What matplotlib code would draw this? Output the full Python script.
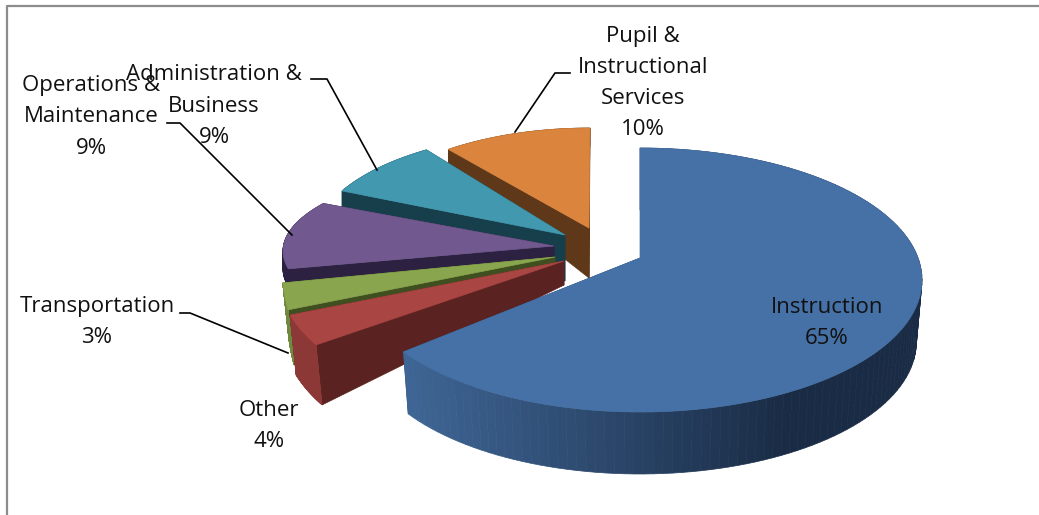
import numpy as np
import matplotlib
matplotlib.use("Agg")
import matplotlib.pyplot as plt
from matplotlib.patches import Polygon
from matplotlib.colors import to_rgb

# ---- data (clockwise from 12 o'clock) ----
categories = ["Instruction", "Other", "Transportation",
              "Operations &\nMaintenance", "Administration &\nBusiness",
              "Pupil &\nInstructional\nServices"]
values = [65.0, 4.0, 3.0, 9.4, 8.6, 10.0]

# ---- styles / layout ----
top_colors = ["#4571A6", "#A94542", "#89A54E", "#71588F", "#4198AF", "#DB843D"]
side_colors = ["#2F4D74", "#5A2220", "#3F4F20", "#2C2140", "#173F4B", "#5E3818"]
wall_colors = [None, "#8C3836", "#6F8A3E", "#2C2140", "#173F4B", "#5E3818"]
# apex x, apex y, ellipse-centre x, ellipse-centre y, rx, ry, outer depth, apex depth
geom = [
    (640, 258, 640, 280, 282, 132, 62, 62),
    (564, 261, 490, 265, 215, 136, 60, 24),
    (555, 257, 381, 255, 100, 149, 55, 10),
    (554, 246, 583, 251, 300, 95, 18, 14),
    (565, 235, 563, 240, 248, 108, 18, 46),
    (589, 228, 590, 240, 241, 112, 18, 50),
]
# perspective adjustment of each slice's drawn start / end angle, degrees
angle_shift = [(0, 3), (0, 0), (0, 0), (0, 7), (4, 2.6), (0, 0)]
# horizontal scale and shift of the lower rim relative to the upper rim
wall_scale = [0.98, 1, 1, 1, 1, 1]
wall_dx = [0, 6, 6, 0, 0, 0]
label_xy = [(827, 323), (269, 426), (97, 322), (91, 117), (214, 106), (643, 83)]
leaders = [None, None,
           [(288, 353), (190, 313), (180, 313)],
           [(292, 235), (180, 123), (167, 123)],
           [(377, 170), (327, 79), (311, 79)],
           [(515, 132), (555, 73), (570, 73)]]

fig = plt.figure(figsize=(10.39, 5.15), dpi=100)
ax = fig.add_axes([0, 0, 1, 1])
ax.set_xlim(0, 1039)
ax.set_ylim(515, 0)
ax.axis("off")

# chart frame (only left and top edges are inside the picture)
ax.plot([7, 7, 1039], [515, 6, 6], color="#8C8C8C", lw=1.6, zorder=0)

total = sum(values)
fracs = np.cumsum([0] + values) / total * 2 * np.pi


def arc(g, a, b, n=120):
    t = np.linspace(a, b, n)
    return g[2] + g[4] * np.sin(t), g[3] - g[5] * np.cos(t)


z = 1
for i in [5, 4, 3, 2, 1, 0]:
    g = geom[i]
    a = fracs[i] + np.radians(angle_shift[i][0])
    b = fracs[i + 1] + np.radians(angle_shift[i][1])
    xs, ys = arc(g, a, b)
    d, da = g[6], g[7]
    xb = g[2] + (xs - g[2]) * wall_scale[i] + wall_dx[i]
    # radial cut faces
    for x0, y0, x1 in ((xs[0], ys[0], xb[0]), (xs[-1], ys[-1], xb[-1])):
        ax.add_patch(Polygon([(x0, y0), (g[0], g[1]), (g[0], g[1] + da), (x1, y0 + d)],
                             closed=True, fc=side_colors[i], ec=side_colors[i], lw=0.5, zorder=z))
    z += 1
    # outer wall, shaded along x
    for k in range(len(xs) - 1):
        if i == 0:
            f = np.clip((xs[k] - 405) / (790 - 405), 0, 1)
            col = tuple((1 - f) * np.array(to_rgb("#3F6696")) + f * np.array(to_rgb("#1A2C45")))
        else:
            col = wall_colors[i]
        ax.add_patch(Polygon([(xs[k], ys[k]), (xs[k + 1], ys[k + 1]),
                              (xb[k + 1], ys[k + 1] + d), (xb[k], ys[k] + d)],
                             closed=True, fc=col, ec=col, lw=0.5, zorder=z))
    z += 1
    # top face
    ax.add_patch(Polygon(np.column_stack([np.r_[g[0], xs], np.r_[g[1], ys]]),
                         closed=True, fc=top_colors[i], ec=top_colors[i], lw=0.5, zorder=z))
    z += 1

# labels
plt.rcParams["font.family"] = ["Open Sans", "DejaVu Sans"]
for name, v, (x, y) in zip(categories, values, label_xy):
    ax.text(x, y, f"{name}\n{v:.0f}%", ha="center", va="center", fontsize=16,
            color="#111111", linespacing=1.63, zorder=z + 2)
for pts in leaders:
    if pts:
        ax.plot(*zip(*pts), color="black", lw=1.2, zorder=z + 1)

fig.savefig("out.png", dpi=100)
